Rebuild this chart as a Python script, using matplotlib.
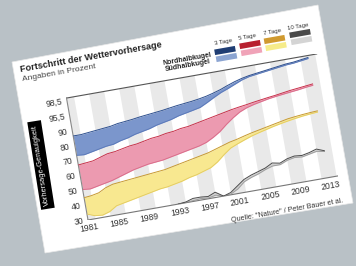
import numpy as np
import matplotlib
matplotlib.use("Agg")
import matplotlib.pyplot as plt
from matplotlib.transforms import Affine2D
from matplotlib.patches import Polygon, Rectangle
import mpl_toolkits.axisartist.floating_axes as floating_axes
from mpl_toolkits.axisartist.grid_finder import FixedLocator, DictFormatter

plt.rcParams['font.family'] = ['Liberation Sans', 'DejaVu Sans']

# ---------------- data (percent) ----------------
years = list(range(1981, 2014))
nh3 = [86.5, 86.5, 87, 87.5, 88, 88.5, 89.5, 90, 90.3, 90.7, 91.0, 91.3, 91.6, 92.0, 92.4, 92.7,
       93.0, 93.4, 93.9, 94.6, 95.4, 96.0, 96.5, 96.9, 97.2, 97.4, 97.6, 97.8, 98.0, 98.2, 98.3, 98.5, 98.7]
sh3 = [73.5, 73, 74, 75, 76, 76.5, 78, 79, 80.5, 81.5, 82.5, 84, 85, 86, 87.5, 88.5,
       89.5, 90.3, 91.6, 93, 94.3, 95.3, 96, 96.6, 97.0, 97.2, 97.4, 97.6, 97.8, 98.0, 98.1, 98.3, 98.5]
nh5 = [67, 67.5, 68, 69.5, 71, 71.5, 72.5, 73.5, 74, 75, 76, 76.5, 77.5, 78, 79, 79.5,
       80.5, 81.5, 82.5, 83.5, 84.5, 85.5, 86.3, 87, 87.8, 88.5, 89.2, 89.8, 90.3, 90.7, 91.0, 91.3, 91.6]
sh5 = [50.5, 50, 51, 52, 53, 54.5, 56, 57.5, 58.5, 59.5, 60, 60.5, 61.5, 62.5, 63.5, 64.5,
       65.5, 67, 69.5, 72.5, 76.5, 80, 83, 85, 86.3, 87.3, 88.3, 89.0, 89.6, 90.1, 90.4, 90.8, 91.1]
nh7 = [45, 45.5, 46.5, 49, 50.5, 51, 51.5, 52, 52.5, 53, 53.5, 54, 55, 56, 57, 58,
       59, 60, 61.5, 63, 64.5, 65.5, 66.8, 68, 69, 70, 71, 72, 73, 73.6, 74.1, 74.5, 74.8]
sh7 = [34, 32, 31.5, 33, 36, 37, 38, 39, 40, 41, 42, 42.5, 43.5, 44.5, 46, 47,
       48.5, 50, 53, 57, 60.5, 62.5, 64.3, 66, 67.3, 68.5, 69.7, 70.7, 71.6, 72.4, 73.1, 73.6, 74.0]
years10 = list(range(1993, 2014))
nh10 = [29, 30.5, 32, 32, 31.5, 33.5, 30, 31.5, 35, 38.5, 40.5, 42, 43.5, 46, 45, 47, 48, 47.5, 48.5, 50, 48]
sh10 = [28, 29, 30.5, 31, 30.5, 31.5, 29, 30.5, 33, 37, 39, 40.5, 42.5, 44, 44, 46, 47, 46.5, 47.5, 48.5, 47.5]

tick_values = [30, 40, 50, 60, 70, 80, 90, 95.5, 98.5]
tick_labels = ["30", "40", "50", "60", "70", "80", "90", "95,5", "98,5"]
year_ticks = list(range(1981, 2014, 4))
stripe_starts = list(range(1980, 2014, 4))

legend_heads = ["3 Tage", "5 Tage", "7 Tage", "10 Tage"]
dark_cols = ['#1f3d73', '#b8202f', '#d09a30', '#4a4a4a']
light_cols = ['#8ca5d2', '#f0a3b8', '#f6ec8a', '#d4d4d4']
fill_cols = ['#7b96cc', '#ec9ab0', '#f8e890', '#cfcfcf']
line_nh = ['#2d4f8e', '#c8304a', '#c89a30', '#4a4a4a']
line_sh = ['#5a78b8', '#d86a88', '#e2ca60', '#9a9a9a']


def pos(v):
    """non-linear y scale: percent -> tick slot position"""
    return np.interp(v, tick_values + [101.5], list(range(len(tick_values))) + [len(tick_values)])


W, H = 356, 266
fig = plt.figure(figsize=(W / 100, H / 100), dpi=100)
fig.patch.set_facecolor('#b9c1c6')

# background / card in pixel coords (y up)
bg = fig.add_axes([0, 0, 1, 1])
bg.set_xlim(0, W)
bg.set_ylim(0, H)
bg.axis('off')


def P(x, y):
    return (x, H - y)


bg.add_patch(Polygon([P(12, 62), P(318, 5), P(353, 203), P(45, 253)], closed=True,
                     fc='white', ec='#e8e8e8', lw=0.5))

ang = 10
bg.text(*P(21, 72), "Fortschritt der Wettervorhersage", fontsize=6.6, fontweight='bold',
        rotation=ang, rotation_mode='anchor', ha='left', va='baseline', color='#222222')
bg.text(*P(23, 81), "Angaben in Prozent", fontsize=6.0,
        rotation=ang, rotation_mode='anchor', ha='left', va='baseline', color='#444444')
bg.text(*P(212, 56), "Nordhalbkugel", fontsize=5.0, fontweight='bold',
        rotation=ang, rotation_mode='anchor', ha='right', va='baseline', color='#222222')
bg.text(*P(211, 63.5), "Südhalbkugel", fontsize=5.0, fontweight='bold',
        rotation=ang, rotation_mode='anchor', ha='right', va='baseline', color='#222222')

dark_c = [(225, 50.5), (250, 44.5), (274.5, 39.5), (300, 33.5)]
light_c = [(226.5, 57.5), (251.5, 51.5), (276, 46.5), (301.5, 40.5)]
head_c = [(223, 42), (247.5, 36.5), (272.5, 31.5), (298, 26.5)]
for i in range(4):
    for (cx, cy), col in ((dark_c[i], dark_cols[i]), (light_c[i], light_cols[i])):
        x, y = P(cx, cy)
        bg.add_patch(Rectangle((x - 10.5, y - 2.8), 21, 5.6, angle=ang, rotation_point='center',
                               fc=col, ec='none'))
    x, y = P(*head_c[i])
    bg.text(x, y, legend_heads[i], fontsize=4.3, rotation=ang, rotation_mode='anchor',
            ha='center', va='center', color='#333333')

x, y = P(41, 165)
bg.text(x, y, "Vorhersage-Genauigkeit", fontsize=5.4, color='white', rotation=99,
        rotation_mode='anchor', ha='center', va='center',
        bbox=dict(boxstyle='square,pad=0.45', fc='black', ec='none'))
bg.text(*P(343, 202), "Quelle: \"Nature\" / Peter Bauer et al.", fontsize=5.1,
        rotation=ang, rotation_mode='anchor', ha='right', va='baseline', color='#333333')

# ---------------- rotated chart ----------------
sx, sy = 7.65, 15.1
x0, x1 = 1981, 2014.2
ytop = 8.2
tr = Affine2D().translate(-1981, 0).scale(sx, sy).rotate_deg(ang)
grid_helper = floating_axes.GridHelperCurveLinear(
    tr, extremes=(x0, x1, 0, ytop),
    grid_locator1=FixedLocator(year_ticks),
    tick_formatter1=DictFormatter({y: str(y) for y in year_ticks}),
    grid_locator2=FixedLocator(list(range(len(tick_values)))),
    tick_formatter2=DictFormatter({i: l for i, l in enumerate(tick_labels)}))

corners = tr.transform([[x0, 0], [x1, 0], [x0, ytop], [x1, ytop]])
cxmin, cymin = corners.min(axis=0)
cxmax, cymax = corners.max(axis=0)
ox, oy = 88, H - 220
ax = fig.add_axes([(ox + cxmin) / W, (oy + cymin) / H, (cxmax - cxmin) / W, (cymax - cymin) / H],
                  axes_class=floating_axes.FloatingAxes, grid_helper=grid_helper)
ax.set_xlim(cxmin, cxmax)
ax.set_ylim(cymin, cymax)
ax.patch.set_facecolor('white')

aux = ax.get_aux_axes(tr)
aux.patch = ax.patch
ax.patch.zorder = 0.9

aux.bar(stripe_starts, ytop, width=2, bottom=0, align='edge', color='#e9e9e9', zorder=1)

series = [(nh3, sh3, years), (nh5, sh5, years), (nh7, sh7, years), (nh10, sh10, years10)]
for i, (nh, sh, yrs) in enumerate(series):
    pn, ps = pos(np.array(nh)), pos(np.array(sh))
    aux.fill_between(yrs, ps, pn, color=fill_cols[i], lw=0, zorder=2)
    aux.plot(yrs, ps, color=line_sh[i], lw=0.6, zorder=3)
    aux.plot(yrs, pn, color=line_nh[i], lw=0.7, zorder=3)

for side in ["left", "bottom", "top", "right"]:
    ax.axis[side].major_ticks.set_ticksize(0)
ax.axis["right"].set_visible(False)
ax.axis["left"].line.set_color('#888888')
ax.axis["bottom"].line.set_color('#777777')
ax.axis["top"].line.set_color('#555555')
ax.axis["left"].major_ticklabels.set_fontsize(6.2)
ax.axis["bottom"].major_ticklabels.set_fontsize(6.2)
ax.axis["left"].major_ticklabels.set_color('#333333')
ax.axis["bottom"].major_ticklabels.set_color('#333333')

fig.savefig("out.png", dpi=100, facecolor=fig.get_facecolor())
